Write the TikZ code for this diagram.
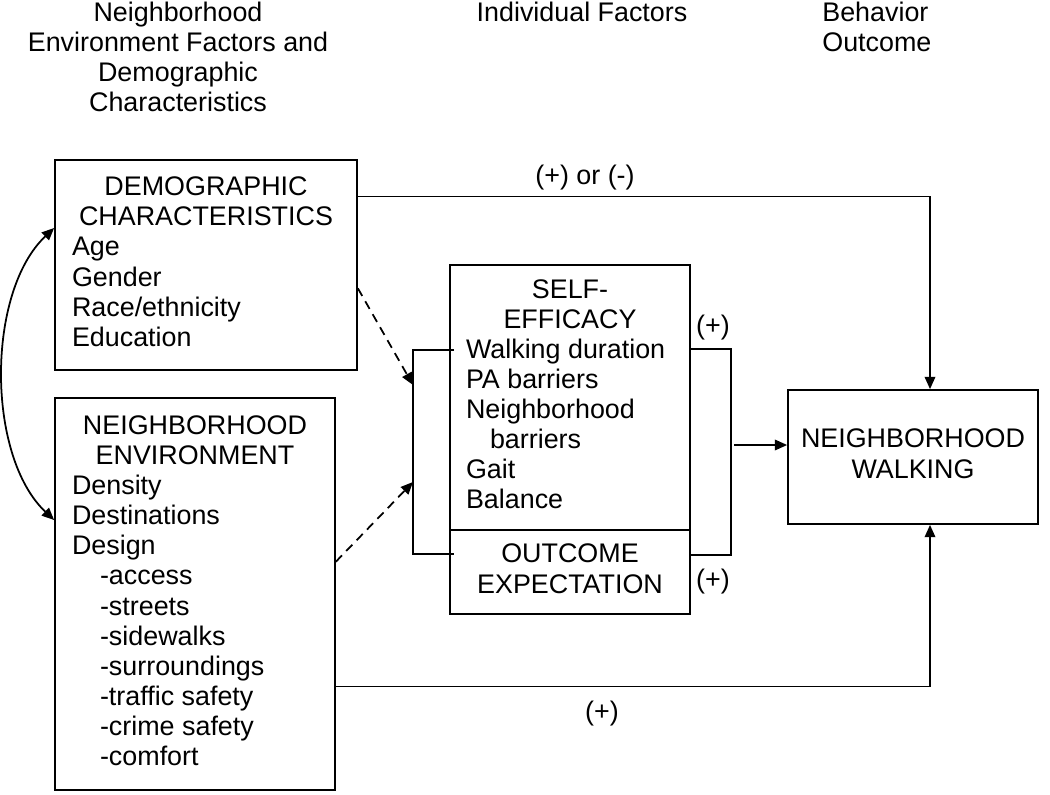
\documentclass[tikz,border=0pt]{standalone}
\usepackage{fontspec}
\setmainfont{Liberation Sans}
\usetikzlibrary{arrows.meta,calc}

\begin{document}
\begin{tikzpicture}[x=0.02cm,y=-0.02cm,
	every node/.style={font=\fontsize{15.3}{17.1}\selectfont},
	box/.style={draw, line width=1pt, inner sep=0pt},
	ln/.style={line width=1pt},
	arr/.style={-{Triangle[length=7pt,width=6pt]}, line width=1pt},
	dblarr/.style={{Triangle[length=7pt,width=6pt]}-{Triangle[length=7pt,width=6pt]}, line width=1pt},
	dasharr/.style={arr, dash pattern=on 5pt off 3.5pt}]
			\useasboundingbox (0,0) rectangle (1050,794);
%		    \draw[help lines] (0,0) grid[step=50] (1050,794);
			\node[align=center] (hdrenv) at (178,57) {Neighborhood \\ Environment Factors and \\ Demographic \\ Characteristics};
			\node (hdrind) at (582,12) {Individual Factors};
			\node[align=left, anchor=west, inner sep=0pt] (hdrout) at (822,27) {Behavior \\ Outcome};
			\node[box, minimum width=6.04cm, minimum height=4.2cm] (demo) at (206,265) {\begin{tabular}{@{}p{5.36cm}@{}} \multicolumn{1}{@{}c@{}}{DEMOGRAPHIC} \\ \multicolumn{1}{@{}c@{}}{CHARACTERISTICS} \\ Age \\ Gender \\ Race/ethnicity \\ Education \end{tabular}};
			\node[box, minimum width=5.6cm, minimum height=7.84cm] (env) at (195,594) {\begin{tabular}{@{}p{4.92cm}@{}} \multicolumn{1}{@{}c@{}}{NEIGHBORHOOD} \\ \multicolumn{1}{@{}c@{}}{ENVIRONMENT} \\ Density \\ Destinations \\ Design \\ \hspace*{0.56cm}-access \\ \hspace*{0.56cm}-streets \\ \hspace*{0.56cm}-sidewalks \\ \hspace*{0.56cm}-surroundings \\ \hspace*{0.56cm}-traffic safety \\ \hspace*{0.56cm}-crime safety \\ \hspace*{0.56cm}-comfort \end{tabular}};
			\node[box, minimum width=4.8cm, minimum height=5.3cm] (self) at (570,397.5) {\begin{tabular}{@{}p{4.16cm}@{}} \multicolumn{1}{@{}c@{}}{SELF-} \\ \multicolumn{1}{@{}c@{}}{EFFICACY} \\ Walking duration \\ PA barriers \\ Neighborhood \\ \hspace*{0.48cm}barriers \\ Gait \\ Balance \end{tabular}};
			\node[box, minimum width=4.8cm, minimum height=1.68cm] (outc) at (570,572) {\begin{tabular}{@{}c@{}} OUTCOME \\ EXPECTATION \end{tabular}};
			\node[box, minimum width=5cm, minimum height=2.68cm] (walk) at (913,457) {\begin{tabular}{@{}c@{}} NEIGHBORHOOD \\ WALKING \end{tabular}};
			% bracket round the individual factors
			\coordinate (lbt) at (413,350);
			\coordinate (lbb) at (413,554);
			\coordinate (rbt) at (731,349);
			\coordinate (rbb) at (731,555);
			\coordinate (rbm) at (734,445);
			\coordinate (lin1) at (413,385);
			\coordinate (lin2) at (413,482);
			\draw[ln] ([xshift=0.1cm]self.west |- lbt) -- (lbt) -- (lbb) -- ([xshift=0.1cm]outc.west |- lbb);
			\draw[ln] (self.east |- rbt) -- (rbt) -- (rbb) -- (outc.east |- rbb);
			\draw[arr] (rbm) -- (walk.west |- rbm);
			\draw[dasharr] ($(demo.north east)!0.61!(demo.south east)$) -- (lin1);
			\draw[dasharr] ($(env.north east)!0.418!(env.south east)$) -- (lin2);
			\draw[arr] ($(demo.north east)!0.176!(demo.south east)$) -| ([xshift=0.34cm]walk.north);
			\draw[arr] ($(env.north east)!0.735!(env.south east)$) -| ([xshift=0.34cm]walk.south);
			\draw[dblarr] ([yshift=0.74cm]demo.west) .. controls +(-68,64) and +(-68,-64) .. ([yshift=1.48cm]env.west);
			\node (lplusminus) at (585,178) {(+) or (-)};
			\node (lplusbot) at (602,714) {(+)};
			\node (lplusse) at (713,328) {(+)};
			\node (lplusoe) at (713,582) {(+)};
		\end{tikzpicture}
\end{document}
